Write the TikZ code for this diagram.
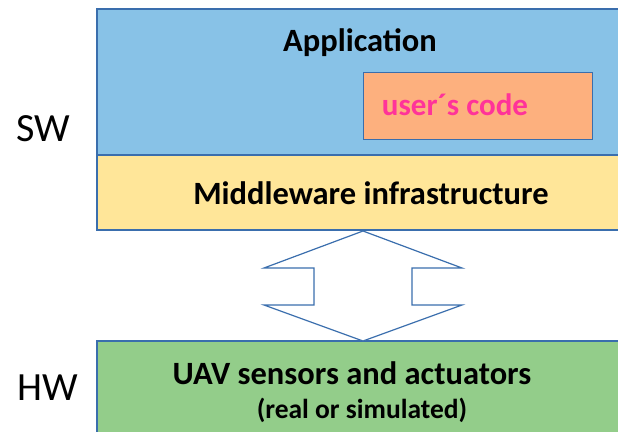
\documentclass[tikz,border=0pt]{standalone}
\usepackage{fontspec}
\setmainfont{Carlito}
\definecolor{appblue}{HTML}{88C2E7}
\definecolor{mwyellow}{HTML}{FFE699}
\definecolor{hwgreen}{HTML}{93CD8A}
\definecolor{codeorange}{HTML}{FDB07E}
\definecolor{edgeblue}{HTML}{3A6EAD}
\definecolor{codepink}{HTML}{FF3399}
\tikzset{
  layer/.style={draw=edgeblue, line width=1.2pt},
  lbl/.style={font=\bfseries\fontsize{32.5}{36}\selectfont, inner sep=0pt},
  side/.style={font=\fontsize{40}{44}\selectfont, inner sep=0pt}
}
\begin{document}
\begin{tikzpicture}[x=1pt,y=-1pt]
\useasboundingbox (0,0) rectangle (618,431);
\begin{scope}
\clip (0,0) rectangle (618,431);
\draw[layer, fill=appblue] (97,9) rectangle (640,155);
\draw[layer, fill=mwyellow] (97,155) rectangle (640,230);
\draw[layer, fill=hwgreen] (97,341) rectangle (640,450);
\end{scope}
\node[draw=edgeblue, line width=1.2pt, fill=codeorange, minimum width=229pt, minimum height=67pt, anchor=north west] (code) at (363,72) {};
\node[font=\bfseries\fontsize{31}{34}\selectfont, text=codepink, inner sep=0pt] (codetxt) at (455,105) {user´s code};
\node[lbl] (app) at (360,43) {Application};
\node[lbl] (mw) at (371,193) {Middleware infrastructure};
\node[lbl] (uav) at (352,373) {UAV sensors and actuators};
\node[font=\bfseries\fontsize{27.5}{30}\selectfont, inner sep=0pt] (real) at (362,410) {(real or simulated)};
\node[side] (sw) at (43,129) {SW};
\node[side] (hw) at (48,388) {HW};
\draw[draw=edgeblue, line width=1.2pt, fill=white, line join=miter]
 (363,231) -- (462,268) -- (412,268) -- (412,305) -- (462,305) -- (363,341)
 -- (264,305) -- (314,305) -- (314,268) -- (264,268) -- cycle;
\end{tikzpicture}
\end{document}
